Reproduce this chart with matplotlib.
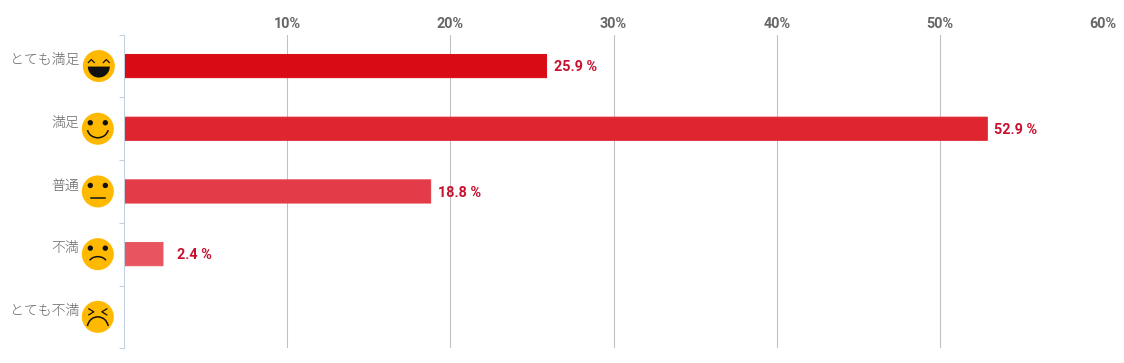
import matplotlib
matplotlib.use("Agg")
import matplotlib.pyplot as plt
from matplotlib.patches import Circle, Arc, Wedge
from matplotlib.lines import Line2D

categories = ["とても満足", "満足", "普通", "不満", "とても不満"]
values = [25.9, 52.9, 18.8, 2.4, 0]
value_labels = ["25.9 %", "52.9 %", "18.8 %", "2.4 %", ""]
bar_colors = ["#D90B15", "#DF2530", "#E33C48", "#E85561", "#EC6E78"]
x_ticks = [10, 20, 30, 40, 50, 60]
faces = ["laugh", "smile", "neutral", "sad", "upset"]

W, H = 1124, 363
fig = plt.figure(figsize=(W / 100, H / 100), dpi=100)
ax = fig.add_axes([123.8 / W, (H - 348.2) / H, (1103.2 - 123.8) / W, 313.5 / H])

# Bars, rounded with a thick edge
bars = ax.barh(range(5), values, height=0.37, color=bar_colors, edgecolor=bar_colors, linewidth=0.7, zorder=3)
for b, v in zip(bars, values):
    b.set_joinstyle("round")
    b.set_snap(False)
    # nothing to show for an empty bar
    if v == 0:
        b.set_visible(False)

ax.set_xlim(0, 60)
ax.set_ylim(4.5, -0.5)

# Grid and axes
ax.xaxis.tick_top()
ax.set_xticks(x_ticks)
ax.set_xticklabels([str(t) + "%" for t in x_ticks], family="Roboto", fontweight="bold", fontsize=10.4, color="#666666")
ax.tick_params(axis="x", length=0, pad=2.4)
ax.grid(axis="x", color="#C0C0C0", linewidth=0.75, zorder=1)
ax.set_axisbelow(True)
ax.set_yticks([-0.5, 0.5, 1.5, 2.5, 3.5, 4.5])
ax.set_yticklabels([])
ax.tick_params(axis="y", length=3.6, width=0.75, color="#C0D0E0")
for s in ["top", "right", "bottom"]:
    ax.spines[s].set_visible(False)
ax.spines["left"].set_color("#C0D0E0")
ax.spines["left"].set_linewidth(0.75)
ax.spines["left"].set_zorder(5)

# Value labels
for i, (v, lab) in enumerate(zip(values, value_labels)):
    # small bars get their label pushed further out
    off = 5 if v > 5 else 10
    ax.annotate(lab, (v, i), xytext=(off, -0.8), textcoords="offset points", va="center", ha="left",
                family="Roboto", fontweight="bold", fontsize=10.4, color="#C8102E")

# Category labels
for i, c in enumerate(categories):
    ax.annotate(c, (0, i), xytext=(-32, 4.2), textcoords="offset points", va="center", ha="right",
                family="Noto Sans CJK JP", fontweight="light", fontsize=10, color="#666666",
                annotation_clip=False)


def draw_face(kind, cx, cy):
    # cx, cy in display pixels
    k = dict(transform=None, clip_on=False, zorder=6)
    fig.add_artist(Circle((cx, cy), 16, fc="#FFB900", ec="none", **k))
    ink = "#111111"
    if kind in ("smile", "neutral", "sad"):
        for dx in (-7.5, 7.5):
            fig.add_artist(Circle((cx + dx, cy + 6), 2.7, fc=ink, ec="none", **k))
    if kind == "laugh":
        for dx in (-7.5, 7.5):
            fig.add_artist(Line2D([cx + dx - 3, cx + dx, cx + dx + 3], [cy + 3.5, cy + 6.5, cy + 3.5],
                                  color=ink, lw=0.9, **k))
        fig.add_artist(Wedge((cx, cy - 0.5), 11, 180, 360, fc=ink, ec="none", **k))
    elif kind == "smile":
        fig.add_artist(Arc((cx, cy + 0.5), 21, 19, theta1=190, theta2=350, color=ink, lw=1.1, **k))
    elif kind == "neutral":
        fig.add_artist(Line2D([cx - 7, cx + 7], [cy - 7, cy - 7], color=ink, lw=1.1, **k))
    elif kind == "sad":
        fig.add_artist(Arc((cx, cy - 10), 19, 15, theta1=25, theta2=155, color=ink, lw=1.1, **k))
    elif kind == "upset":
        fig.add_artist(Line2D([cx - 9, cx - 4, cx - 9], [cy + 8, cy + 5, cy + 2], color=ink, lw=0.9, **k))
        fig.add_artist(Line2D([cx + 9, cx + 4, cx + 9], [cy + 8, cy + 5, cy + 2], color=ink, lw=0.9, **k))
        fig.add_artist(Arc((cx, cy - 11), 21, 22, theta1=10, theta2=170, color=ink, lw=1.1, **k))


fig.canvas.draw()
for i, f in enumerate(faces):
    x0, y0 = ax.transData.transform((0, i))
    draw_face(f, x0 - 26 + (1 if i == 0 else 0), y0)

fig.savefig("out.png", dpi=100)
